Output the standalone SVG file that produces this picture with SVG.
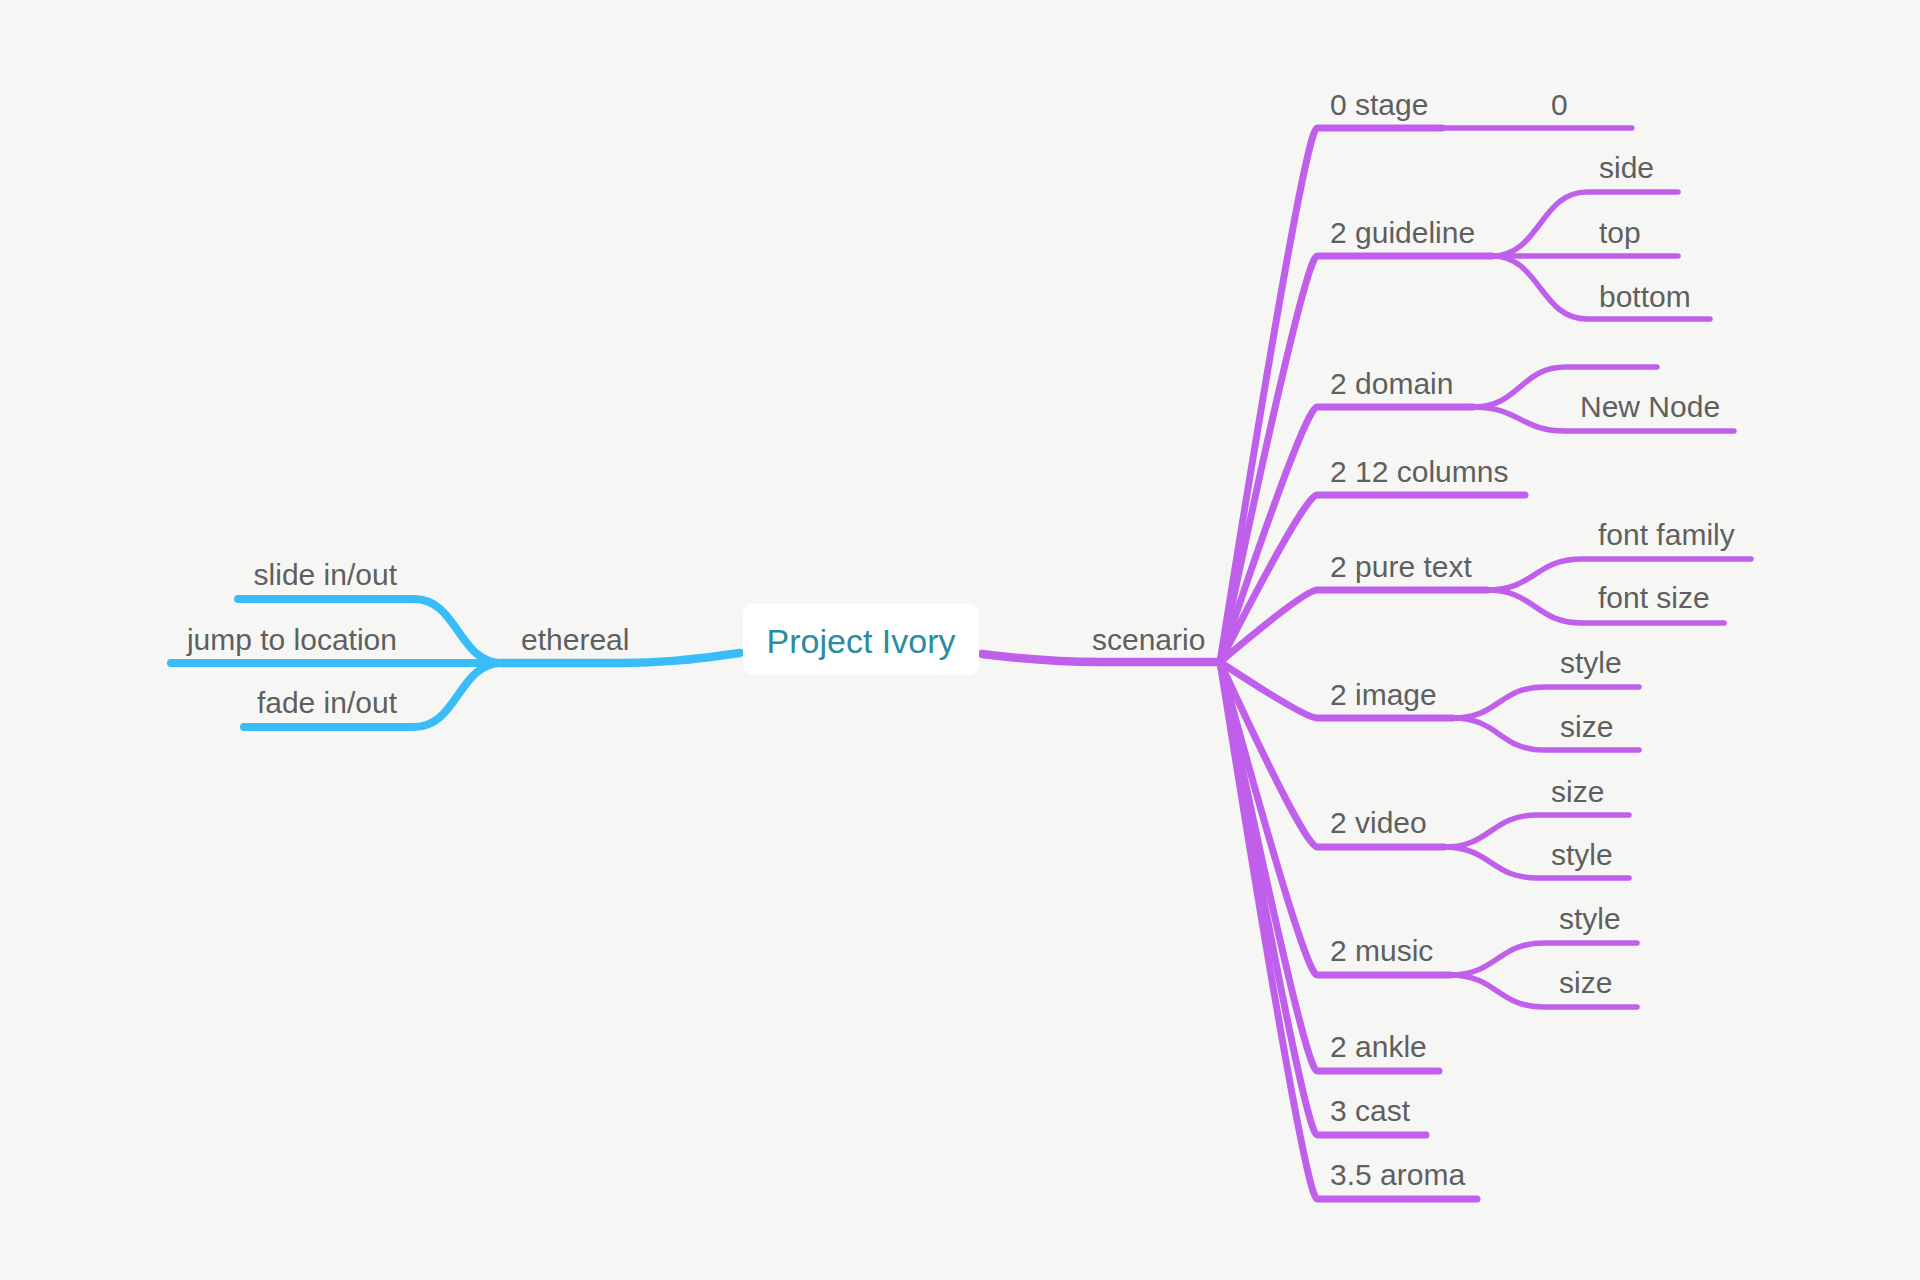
<svg xmlns="http://www.w3.org/2000/svg" width="1920" height="1280" viewBox="0 0 1920 1280">
<style>
.t{font-family:"Liberation Sans",Arial,Helvetica,sans-serif;font-size:30px;fill:#5f5f5f}
.tr{text-anchor:end}
.root{font-family:"Liberation Sans",Arial,Helvetica,sans-serif;font-size:34px;fill:#2a8ca3;text-anchor:middle}
.c{fill:none;stroke-linecap:round;stroke-linejoin:round}
.p1{stroke:#bf5fec;stroke-width:7}
.p2{stroke:#bf5fec;stroke-width:5.5}
.pm{stroke:#bf5fec;stroke-width:8.5}
.b1{stroke:#38bdf8;stroke-width:8}
.bm{stroke:#38bdf8;stroke-width:8.5}
</style>
<rect width="1920" height="1280" fill="#f6f7f5"/>
<g id="connectors">
  <!-- root to main branches -->
  <path class="c bm" d="M740 653 C690 660 660 663 620 663 L502 663"/>
  <path class="c pm" d="M982 654 C1030 660 1060 662 1100 662 L1220 662"/>
  <!-- ethereal children -->
  <path class="c b1" d="M502 663 C458 663 458 599 414 599 L238 599"/>
  <path class="c b1" d="M502 663 L171 663"/>
  <path class="c b1" d="M502 663 C458 663 458 727 414 727 L244 727"/>
  <!-- scenario children -->
  <path class="c p1" d="M1220 662 Q1305 128 1317 128 L1442 128"/>
  <path class="c p1" d="M1220 662 Q1305 256 1317 256 L1492 256"/>
  <path class="c p1" d="M1220 662 Q1305 407 1317 407 L1473 407"/>
  <path class="c p1" d="M1220 662 Q1305 495 1317 495 L1525 495"/>
  <path class="c p1" d="M1220 662 Q1305 590 1317 590 L1487 590"/>
  <path class="c p1" d="M1220 662 Q1305 718 1317 718 L1453 718"/>
  <path class="c p1" d="M1220 662 Q1305 847 1317 847 L1444 847"/>
  <path class="c p1" d="M1220 662 Q1305 975 1317 975 L1450 975"/>
  <path class="c p1" d="M1220 662 Q1305 1071 1317 1071 L1439 1071"/>
  <path class="c p1" d="M1220 662 Q1305 1135 1317 1135 L1426 1135"/>
  <path class="c p1" d="M1220 662 Q1305 1199 1317 1199 L1477 1199"/>
  <!-- level 2 -->
  <path class="c p2" d="M1442 128 L1632 128"/>
  <path class="c p2" d="M1492 256 C1540 256 1540 192 1587 192 L1678 192"/>
  <path class="c p2" d="M1492 256 L1678 256"/>
  <path class="c p2" d="M1492 256 C1540 256 1540 319 1587 319 L1710 319"/>
  <path class="c p2" d="M1473 407 C1520 407 1520 367 1566 367 L1657 367"/>
  <path class="c p2" d="M1473 407 C1520 407 1520 431 1566 431 L1734 431"/>
  <path class="c p2" d="M1487 590 C1535 590 1535 559 1582 559 L1751 559"/>
  <path class="c p2" d="M1487 590 C1535 590 1535 623 1582 623 L1724 623"/>
  <path class="c p2" d="M1453 718 C1499 718 1499 687 1544 687 L1639 687"/>
  <path class="c p2" d="M1453 718 C1499 718 1499 750 1544 750 L1639 750"/>
  <path class="c p2" d="M1444 847 C1491 847 1491 815 1537 815 L1629 815"/>
  <path class="c p2" d="M1444 847 C1491 847 1491 878 1537 878 L1629 878"/>
  <path class="c p2" d="M1450 975 C1497 975 1497 943 1544 943 L1637 943"/>
  <path class="c p2" d="M1450 975 C1497 975 1497 1007 1544 1007 L1637 1007"/>
</g>
<g id="root">
  <rect x="743" y="604" width="236" height="71" rx="10" fill="#ffffff"/>
  <text class="root" x="861" y="653">Project Ivory</text>
</g>
<g id="ethereal"><text class="t" x="521" y="650">ethereal</text></g>
<g id="slide-in-out"><text class="t tr" x="397" y="585">slide in/out</text></g>
<g id="jump-to-location"><text class="t tr" x="397" y="650">jump to location</text></g>
<g id="fade-in-out"><text class="t tr" x="397" y="713">fade in/out</text></g>
<g id="scenario"><text class="t" x="1092" y="650">scenario</text></g>
<g id="stage"><text class="t" x="1330" y="115">0 stage</text></g>
<g id="stage-0"><text class="t" x="1551" y="115">0</text></g>
<g id="guideline"><text class="t" x="1330" y="243">2 guideline</text></g>
<g id="guideline-side"><text class="t" x="1599" y="178">side</text></g>
<g id="guideline-top"><text class="t" x="1599" y="243">top</text></g>
<g id="guideline-bottom"><text class="t" x="1599" y="307">bottom</text></g>
<g id="domain"><text class="t" x="1330" y="394">2 domain</text></g>
<g id="domain-empty"></g>
<g id="domain-new-node"><text class="t" x="1580" y="417">New Node</text></g>
<g id="columns"><text class="t" x="1330" y="482">2 12 columns</text></g>
<g id="pure-text"><text class="t" x="1330" y="577">2 pure text</text></g>
<g id="font-family"><text class="t" x="1598" y="545">font family</text></g>
<g id="font-size"><text class="t" x="1598" y="608">font size</text></g>
<g id="image"><text class="t" x="1330" y="705">2 image</text></g>
<g id="image-style"><text class="t" x="1560" y="673">style</text></g>
<g id="image-size"><text class="t" x="1560" y="737">size</text></g>
<g id="video"><text class="t" x="1330" y="833">2 video</text></g>
<g id="video-size"><text class="t" x="1551" y="802">size</text></g>
<g id="video-style"><text class="t" x="1551" y="865">style</text></g>
<g id="music"><text class="t" x="1330" y="961">2 music</text></g>
<g id="music-style"><text class="t" x="1559" y="929">style</text></g>
<g id="music-size"><text class="t" x="1559" y="993">size</text></g>
<g id="ankle"><text class="t" x="1330" y="1057">2 ankle</text></g>
<g id="cast"><text class="t" x="1330" y="1121">3 cast</text></g>
<g id="aroma"><text class="t" x="1330" y="1185">3.5 aroma</text></g>
</svg>
